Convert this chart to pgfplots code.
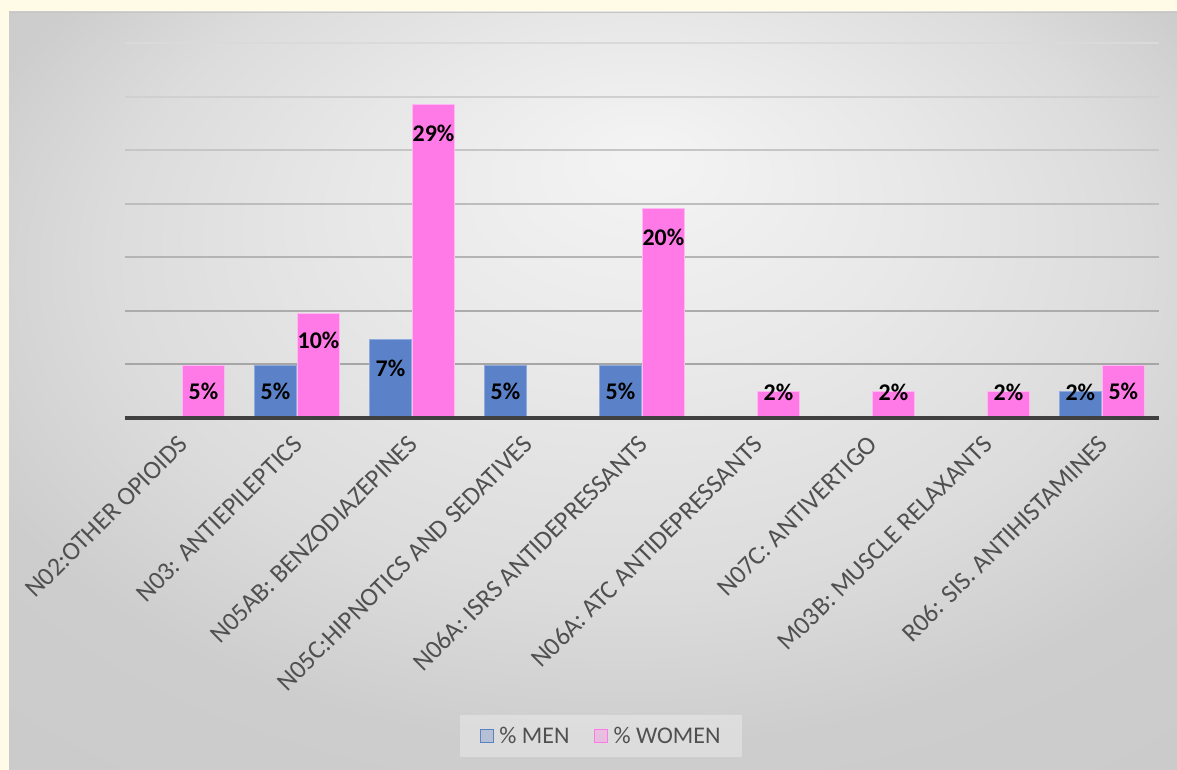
\documentclass[border=0pt]{standalone}
\usepackage{pgfplots}
\pgfplotsset{compat=1.18}
\usepackage{fontspec}
\setmainfont{Carlito}
\definecolor{cream}{HTML}{FFFBE6}
\definecolor{menc}{HTML}{5B82C8}
\definecolor{menedge}{HTML}{8FAADD}
\definecolor{womc}{HTML}{FF7AE6}
\definecolor{womedge}{HTML}{FFB8F2}
\definecolor{ticktext}{HTML}{505050}
\definecolor{axisc}{HTML}{404040}
\definecolor{bg0}{HTML}{F4F4F4}
\definecolor{bg1}{HTML}{E8E8E8}
\definecolor{bg2}{HTML}{DCDCDC}
\definecolor{bg3}{HTML}{CDCDCD}
\definecolor{bg4}{HTML}{C8C8C8}
\definecolor{g1}{HTML}{A6A6A6}
\definecolor{g2}{HTML}{ACACAC}
\definecolor{g3}{HTML}{B4B4B4}
\definecolor{g4}{HTML}{BDBDBD}
\definecolor{g5}{HTML}{C6C6C6}
\definecolor{g6}{HTML}{D0D0D0}
\definecolor{g7}{HTML}{DADADA}
\pgfdeclareradialshading{bgshade}{\pgfpoint{2.4bp}{15.9bp}}{color(0bp)=(bg0); color(12bp)=(bg1); color(22bp)=(bg2); color(30bp)=(bg3); color(50bp)=(bg4)}
\begin{document}
\begin{tikzpicture}
\useasboundingbox (0bp,0bp) rectangle (1177bp,770bp);
\fill[cream] (0bp,0bp) rectangle (1177bp,770bp);
\shade[shading=bgshade] (9bp,0bp) rectangle (1177bp,758bp);
\draw[color=gray!45, line width=1bp] (9bp,757.5bp) -- (1177bp,757.5bp);
\begin{axis}[
  at={(124.5bp,352bp)}, anchor=south west,
  scale only axis, width=1035bp, height=375bp,
  xmin=-0.5, xmax=8.5, ymin=0, ymax=35,
  axis line style={draw=none},
  ytick=\empty,
  xtick={0,...,8},
  xticklabels={N02:OTHER OPIOIDS, N03: ANTIEPILEPTICS, N05AB: BENZODIAZEPINES, N05C:HIPNOTICS AND SEDATIVES, N06A: ISRS ANTIDEPRESSANTS, N06A: ATC ANTIDEPRESSANTS, N07C: ANTIVERTIGO, M03B: MUSCLE RELAXANTS, R06: SIS. ANTIHISTAMINES},
  major tick length=0pt,
  x tick label style={xshift=-5bp, yshift=-13bp, rotate=45, anchor=north east, font=\fontsize{26}{30}\selectfont, text=ticktext, inner sep=2bp},
  clip=false,
  legend columns=2,
  legend style={at={(axis description cs:0.4604,-0.848)}, anchor=center,
    fill=white, fill opacity=0.3, text opacity=1, draw=none,
    font=\fontsize{24}{28}\selectfont, text=ticktext,
    inner xsep=20bp, inner ysep=10bp,
    /tikz/every even column/.append style={column sep=22bp}},
]
\draw[g1, line width=2bp] (axis cs:-0.5,5) -- (axis cs:8.5,5);
\draw[g2, line width=2bp] (axis cs:-0.5,10) -- (axis cs:8.5,10);
\draw[g3, line width=2bp] (axis cs:-0.5,15) -- (axis cs:8.5,15);
\draw[g4, line width=2bp] (axis cs:-0.5,20) -- (axis cs:8.5,20);
\draw[g5, line width=2bp] (axis cs:-0.5,25) -- (axis cs:8.5,25);
\draw[g6, line width=2bp] (axis cs:-0.5,30) -- (axis cs:8.5,30);
\draw[g7, line width=2bp] (axis cs:-0.5,35) -- (axis cs:8.5,35);
\addplot[ybar, bar width=42bp, bar shift=-21.5bp, fill=menc, draw=menedge, line width=1bp,
  legend image code/.code={\fill[menc] (0bp,-6.5bp) rectangle (13bp,6.5bp); \path (17bp,0bp);}]
  coordinates {(1,4.88) (2,7.32) (3,4.88) (4,4.88) (8,2.44)};
\addlegendentry{\% MEN}
\addplot[ybar, bar width=42bp, bar shift=21.5bp, fill=womc, draw=womedge, line width=1bp,
  legend image code/.code={\fill[womc] (0bp,-6.5bp) rectangle (13bp,6.5bp); \path (17bp,0bp);}]
  coordinates {(0,4.88) (1,9.76) (2,29.27) (4,19.51) (5,2.44) (6,2.44) (7,2.44) (8,4.88)};
\addlegendentry{\% WOMEN}
\draw[axisc, line width=3.5bp] (axis cs:-0.5,0) -- (axis cs:8.5,0);
\addplot[draw=none, mark=none, forget plot, point meta=explicit,
  nodes near coords={\pgfmathprintnumber[assume math mode=true, fixed, precision=0]{\pgfplotspointmeta}\%},
  every node near coord/.append style={anchor=center, font=\bfseries\fontsize{24}{28}\selectfont, text=black, inner sep=0pt}]
  table[meta=lab, row sep=\\] {
  x y lab\\
  0.813 2.5 5\\
  1.813 4.66 7\\
  2.813 2.5 5\\
  3.813 2.5 5\\
  7.813 2.43 2\\
  0.187 2.5 5\\
  1.187 7.28 10\\
  2.187 26.6 29\\
  4.187 16.9 20\\
  5.187 2.43 2\\
  6.187 2.43 2\\
  7.187 2.43 2\\
  8.187 2.5 5\\
  };
\end{axis}
\end{tikzpicture}
\end{document}
